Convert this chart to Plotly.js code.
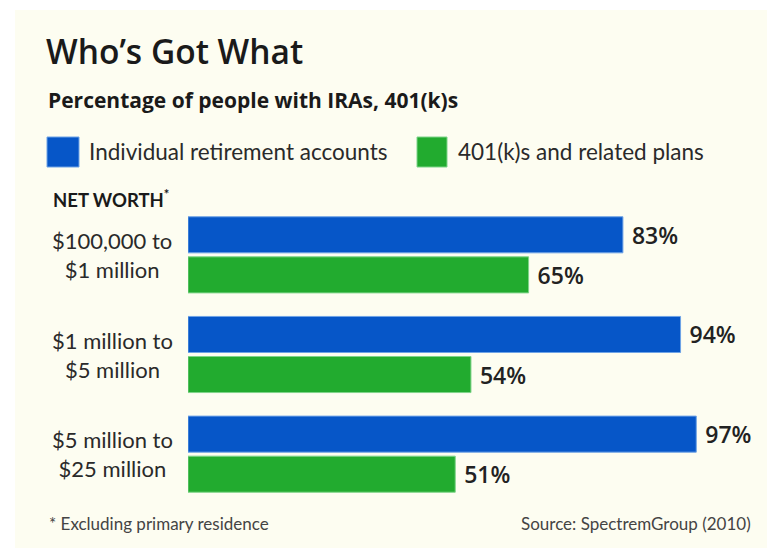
<!DOCTYPE html>
<html>
<head>
<meta charset="utf-8">
<script src="https://cdn.plot.ly/plotly-3.0.1.min.js"></script>
<style>html,body{margin:0;padding:0;background:#fff;}#chart{width:767px;height:552px;}</style>
</head>
<body>
<div id="chart"></div>
<script>
// ---- data ----
var categories = ["$100,000 to<br>$1 million", "$1 million to<br>$5 million", "$5 million to<br>$25 million"];
var seriesNames = ["Individual retirement accounts", "401(k)s and related plans"];
var iraValues = [83, 94, 97];
var k401Values = [65, 54, 51];
var titleText = "Who\u2019s Got What";
var subtitleText = "Percentage of people with IRAs, 401(k)s";
var groupHeader = "NET WORTH<sup>*</sup>";
var footnoteText = "* Excluding primary residence";
var sourceText = "Source: SpectremGroup (2010)";

// ---- layout helpers (pixel -> paper) ----
var W = 767, H = 552;
var mL = 188, mR = 55, mT = 205, mB = 48;
var pw = W - mL - mR, ph = H - mT - mB;
function px(x) { return (x - mL) / pw; }
function py(y) { return (H - mB - y) / ph; }

var blue = "#0656c8", green = "#22ab2f";
var labelFont = {family: "Lato, 'Open Sans', sans-serif", size: 22, color: "#2a2a2a"};
var valueFont = {family: "'Open Sans', Lato, sans-serif", size: 23, color: "#222", weight: 600};

var traces = [
  {type: "bar", orientation: "h", name: seriesNames[0], y: categories, x: iraValues,
   marker: {color: blue, line: {color: "#6fa3e6", width: 1}},
   text: iraValues.map(function(v){return "\u00a0" + v + "%";}), textposition: "outside",
   textfont: valueFont, constraintext: "none", cliponaxis: false, hoverinfo: "none"},
  {type: "bar", orientation: "h", name: seriesNames[1], y: categories, x: k401Values,
   marker: {color: green, line: {color: "#7fd48a", width: 1}},
   text: k401Values.map(function(v){return "\u00a0" + v + "%";}), textposition: "outside",
   textfont: valueFont, constraintext: "none", cliponaxis: false, hoverinfo: "none"}
];

var annotations = [];
// subtitle
annotations.push({xref: "paper", yref: "paper", x: px(46), y: py(100), xanchor: "left", yanchor: "middle",
  text: subtitleText, showarrow: false,
  font: {family: "'Open Sans', Lato, sans-serif", size: 21, color: "#1a1a1a", weight: 700}});
// legend labels
annotations.push({xref: "paper", yref: "paper", x: px(87), y: py(152), xanchor: "left", yanchor: "middle",
  text: seriesNames[0], showarrow: false, font: {family: "Lato, sans-serif", size: 22.5, color: "#2a2a2a"}});
annotations.push({xref: "paper", yref: "paper", x: px(456), y: py(152), xanchor: "left", yanchor: "middle",
  text: seriesNames[1], showarrow: false, font: {family: "Lato, sans-serif", size: 22.5, color: "#2a2a2a"}});
// group header
annotations.push({xref: "paper", yref: "paper", x: px(51), y: py(198), xanchor: "left", yanchor: "middle",
  text: groupHeader, showarrow: false, font: {family: "Lato, sans-serif", size: 18.5, color: "#1a1a1a", weight: 700}});
// category labels
categories.forEach(function(c) {
  annotations.push({xref: "paper", yref: "y", x: px(112), y: c, xanchor: "center", yanchor: "middle",
    text: c, align: "center", showarrow: false, font: labelFont});
});
// footer
annotations.push({xref: "paper", yref: "paper", x: px(47), y: py(523), xanchor: "left", yanchor: "middle",
  text: footnoteText, showarrow: false, font: {family: "Lato, sans-serif", size: 17, color: "#444"}});
annotations.push({xref: "paper", yref: "paper", x: px(753), y: py(523), xanchor: "right", yanchor: "middle",
  text: sourceText, showarrow: false, font: {family: "Lato, sans-serif", size: 17, color: "#444"}});

var shapes = [
  {type: "rect", xref: "paper", yref: "paper", x0: px(15), x1: px(767), y0: py(548), y1: py(10),
   fillcolor: "#fdfdf1", line: {width: 0}, layer: "below"},
  {type: "rect", xref: "paper", yref: "paper", x0: px(47), x1: px(79), y0: py(167), y1: py(137),
   fillcolor: blue, line: {color: "#6fa3e6", width: 1}},
  {type: "rect", xref: "paper", yref: "paper", x0: px(417), x1: px(447), y0: py(167), y1: py(137),
   fillcolor: green, line: {color: "#7fd48a", width: 1}}
];

var layout = {
  width: W, height: H,
  margin: {l: mL, r: mR, t: mT, b: mB, pad: 0},
  paper_bgcolor: "#ffffff", plot_bgcolor: "rgba(0,0,0,0)",
  title: {text: titleText, x: 46 / W, xanchor: "left", xref: "container", y: 1 - 52 / H, yanchor: "middle", yref: "container",
    font: {family: "'Open Sans', Lato, sans-serif", size: 33.5, color: "#1a1a1a", weight: 600}},
  barmode: "group", bargap: 0.196, bargroupgap: 0.1,
  showlegend: false,
  xaxis: {range: [0, 100], visible: false, fixedrange: true},
  yaxis: {type: "category", range: [2.5, -0.5], showticklabels: false, showgrid: false, zeroline: false, showline: false, ticks: "", fixedrange: true},
  annotations: annotations,
  shapes: shapes,
  font: {family: "Lato, sans-serif"}
};

Plotly.newPlot("chart", traces, layout, {staticPlot: true, displayModeBar: false});
</script>
</body>
</html>
